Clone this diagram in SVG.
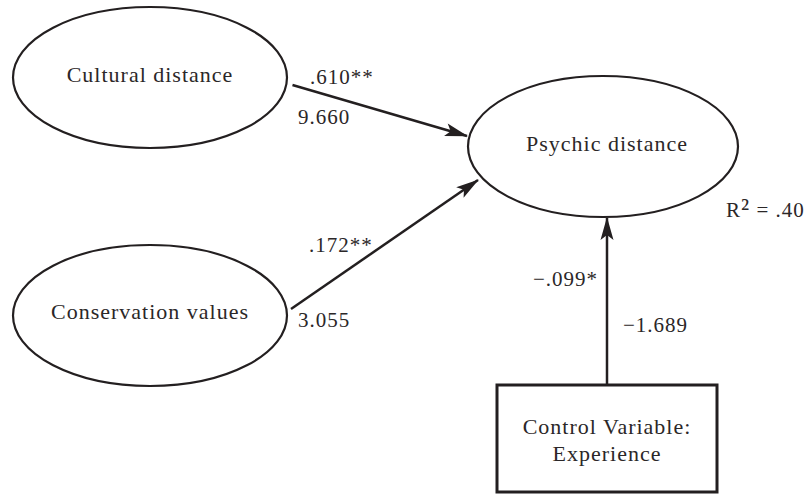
<svg xmlns="http://www.w3.org/2000/svg" width="810" height="498" viewBox="0 0 810 498">
<style>
  .shape { fill: #fff; stroke: #231f20; stroke-width: 2.2; }
  .box { fill: #fff; stroke: #231f20; stroke-width: 3; }
  .lbl { font-family: "Liberation Serif", "DejaVu Serif", serif; font-size: 22px; letter-spacing: 1px; fill: #2b2728; }
  .num { font-family: "Liberation Serif", "DejaVu Serif", serif; font-size: 21px; letter-spacing: 1px; fill: #2b2728; }
  .edge { stroke: #231f20; stroke-width: 2.5; fill: none; marker-end: url(#ah); }
</style>
<defs>
  <marker id="ah" markerUnits="userSpaceOnUse" markerWidth="26" markerHeight="16" viewBox="0 -8 24 16" refX="22" refY="0" orient="auto">
    <path d="M0,-6.5 L23,0 L0,6.5 L5,0 Z" fill="#231f20"/>
  </marker>
</defs>
<rect width="810" height="498" fill="#fff"/>
<g id="cultural">
  <ellipse class="shape" cx="150" cy="77.5" rx="137" ry="70.5"/>
  <text class="lbl" x="150" y="82" text-anchor="middle">Cultural distance</text>
</g>
<g id="conservation">
  <ellipse class="shape" cx="150" cy="315.5" rx="137" ry="70.5"/>
  <text class="lbl" x="150" y="319" text-anchor="middle">Conservation values</text>
</g>
<g id="psychic">
  <ellipse class="shape" cx="603" cy="146.5" rx="135" ry="70.5"/>
  <text class="lbl" x="607" y="151" text-anchor="middle">Psychic distance</text>
  <text class="num" x="726" y="217">R<tspan font-size="27">²</tspan> = .40</text>
</g>
<g id="control">
  <rect class="box" x="497" y="385" width="220" height="107"/>
  <text class="lbl" x="607" y="434" text-anchor="middle">Control Variable:</text>
  <text class="lbl" x="607" y="461" text-anchor="middle">Experience</text>
</g>
<g id="connectors">
  <line class="edge" x1="292.5" y1="85" x2="467" y2="136"/>
  <line class="edge" x1="291" y1="309" x2="478" y2="180"/>
  <line class="edge" x1="607" y1="385" x2="607" y2="218"/>
  <text class="num" x="310" y="84">.610**</text>
  <text class="num" x="298" y="124">9.660</text>
  <text class="num" x="309" y="252">.172**</text>
  <text class="num" x="298" y="327">3.055</text>
  <text class="num" x="533" y="286">−.099*</text>
  <text class="num" x="623" y="332">−1.689</text>
</g>
</svg>
